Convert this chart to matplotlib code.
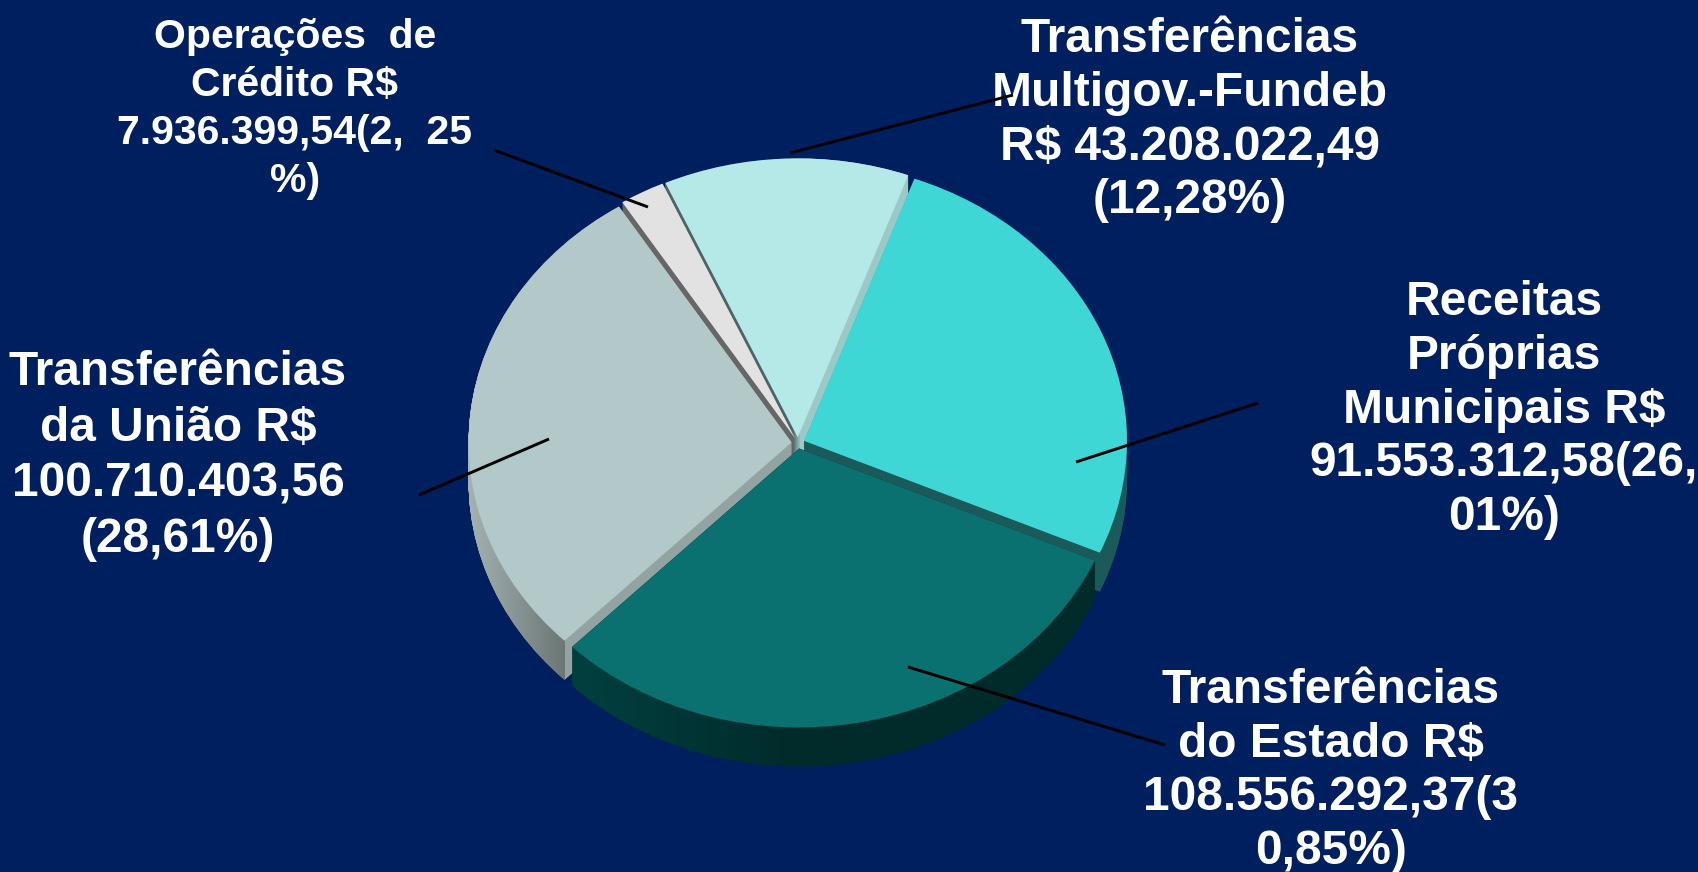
import numpy as np
import matplotlib
matplotlib.use("Agg")
import matplotlib.pyplot as plt
from matplotlib.colors import to_rgb
from matplotlib.path import Path
from matplotlib.patches import PathPatch

W, H = 1699, 872
BG = '#001f5f'

# slices, clockwise from the top right
values = [91553312.58, 108556292.37, 100710403.56, 7936399.54, 43208022.49]
top_colors = ['#3fd6d6', '#0a7070', '#b3c8c9', '#e2e2e2', '#b5e9e7']
side_colors = ['#1a5a5a', '#012c2c', '#8b9a9a', '#666666', '#9cc8c8']
paint_order = [3, 4, 2, 1, 0]  # back slices get painted first

labels = ['Receitas\nPróprias\nMunicipais R$\n91.553.312,58(26,\n01%)',
          'Transferências\ndo Estado R$\n108.556.292,37(3\n0,85%)',
          'Transferências\nda União R$\n100.710.403,56\n(28,61%)',
          'Operações  de\nCrédito R$\n7.936.399,54(2,  25\n%)',
          'Transferências\nMultigov.-Fundeb\nR$ 43.208.022,49\n(12,28%)']
label_x = [1504, 1331, 178, 295, 1190]
label_y = [410, 771, 456, 109, 120]
label_size = [34.5, 34.5, 34.5, 29.5, 34.5]
label_space = [1.25, 1.25, 1.30, 1.33, 1.25]

# leader lines, in pixels
line_x = [(1076, 1258), (908, 1165), (549, 419), (648, 494), (790, 1013)]
line_y = [(462, 403), (667, 745), (439, 495), (207, 150), (153, 95)]

# shading of some side walls, left to right: slice, pixel stops, colours
shade = [(1, [572, 800], ['#014040', '#012a2a']),
         (2, [468, 564, 565], ['#a5b2b2', '#6a7775', '#93a3a1']),
         (4, [792, 800], ['#4f6366', '#9cc8c8'])]

cx, cy = 798, 443
rx, ry = 323, 279
depth = 39 / ry
explode = [0.02] * 5

fig = plt.figure(figsize=(W / 100, H / 100), dpi=100, facecolor=BG)
ax = fig.add_axes([0, 0, 1, 1], facecolor=BG)

# side walls as a stack of shifted pies, top surface last
walls = [[] for v in values]
for d in np.linspace(depth, 0, 40):
    last = d == 0
    wedges, _ = ax.pie(values, colors=top_colors if last else side_colors, explode=explode,
                       startangle=70, counterclock=False, center=(0, -d), frame=False)
    for i, w in enumerate(wedges):
        w.set_zorder(paint_order[i] + (0.5 if last else 0.1))
        w.set_linewidth(0)
        walls[i].append(w.get_path().transformed(w.get_patch_transform()))

for i, stops, cols in shade:
    px = np.arange(W)
    rgb = np.array([to_rgb(c) for c in cols])
    row = np.stack([np.interp(px, stops, rgb[:, k]) for k in range(3)], axis=1)
    im = ax.imshow(row[None, :, :], aspect='auto', interpolation='nearest',
                   extent=(-cx / rx, (W - cx) / rx, (cy - H) / ry, cy / ry),
                   zorder=paint_order[i] + 0.2)
    clip = PathPatch(Path.make_compound_path(*walls[i]), transform=ax.transData)
    im.set_clip_path(clip)

ax.set_aspect('auto')
ax.set_xlim(-cx / rx, (W - cx) / rx)
ax.set_ylim((cy - H) / ry, cy / ry)

over = fig.add_axes([0, 0, 1, 1], facecolor='none')
over.set_xlim(0, W)
over.set_ylim(H, 0)
over.axis('off')

# the leader lines run over the labels
for xs, ys in zip(line_x, line_y):
    over.plot(xs, ys, color='black', lw=2.1, solid_capstyle='butt', zorder=5)

for i in range(5):
    over.text(label_x[i], label_y[i], labels[i], color='white', ha='center', va='center',
              fontsize=label_size[i], fontweight='bold', family='Liberation Sans',
              linespacing=label_space[i], clip_on=True, zorder=3)

fig.savefig('out.png', dpi=100, facecolor=BG)
